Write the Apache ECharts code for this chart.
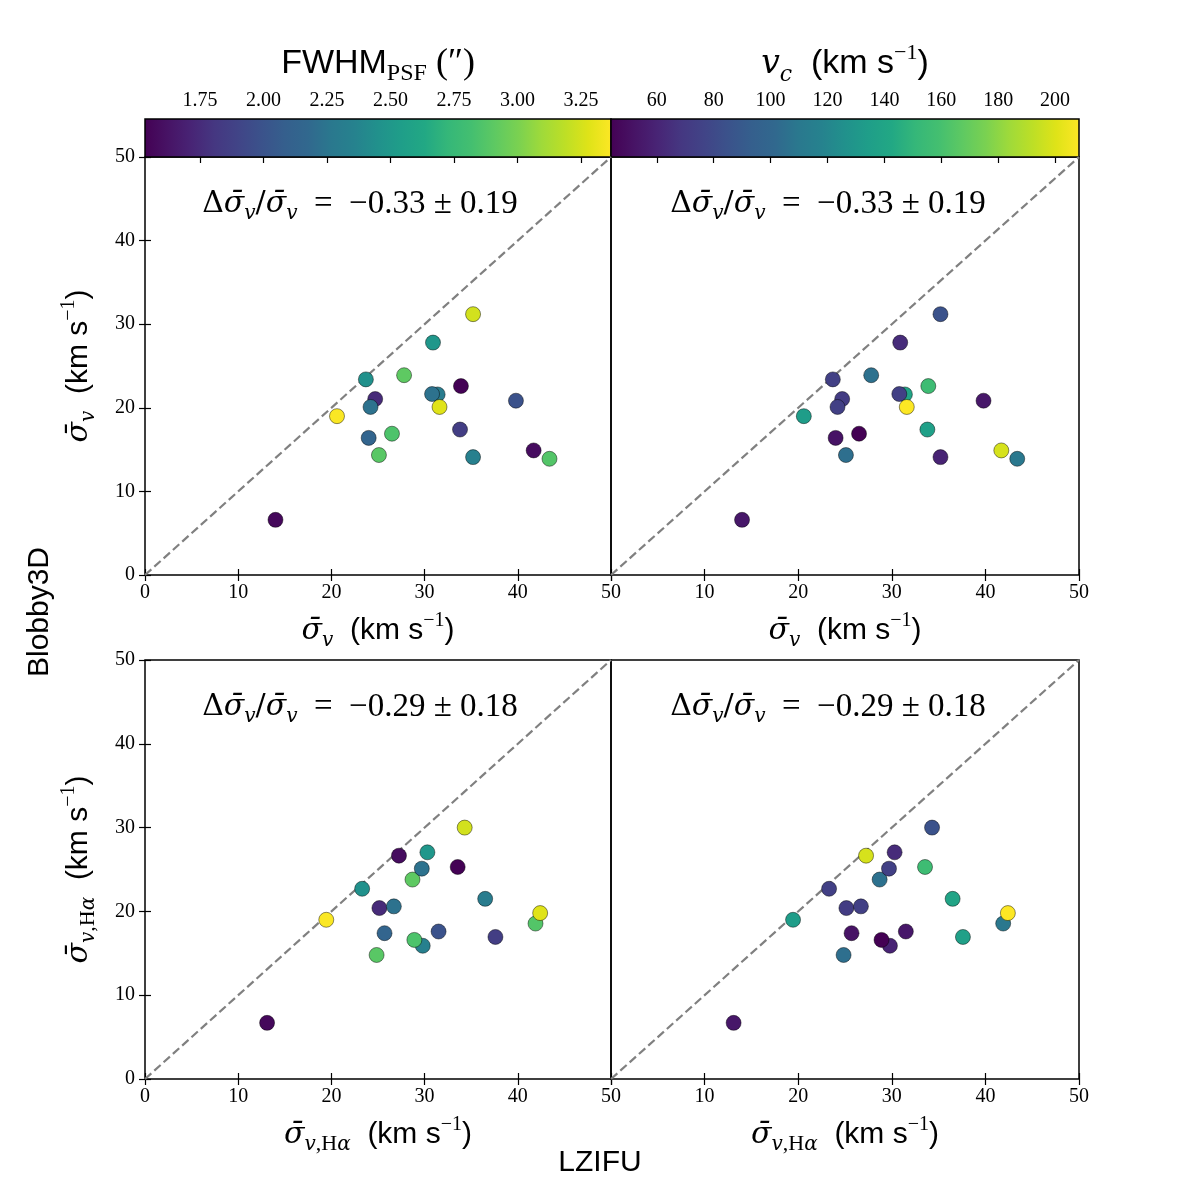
<!DOCTYPE html>
<html><head><meta charset="utf-8">
<script src="https://cdn.jsdelivr.net/npm/echarts@6/dist/echarts.min.js"></script>
<style>html,body{margin:0;padding:0;background:#fff}#c{width:1200px;height:1200px}</style>
</head><body><div id="c"></div>
<script>
// ---- data (one entry per galaxy, same order in every array) ----
const lzifuSigma      = [35.2, 30.9, 23.7, 27.8, 33.9, 31.4, 30.8, 24.7, 24.2, 20.6, 43.4, 31.6, 39.8, 24.0, 35.2, 26.5, 33.8, 25.1, 41.7, 14.0];
const blobbySigma     = [31.2, 27.8, 23.4, 23.9, 22.6, 21.6, 21.65, 21.05, 20.1, 19.0, 13.9, 20.1, 20.85, 16.4, 14.1, 16.9, 17.4, 14.35, 14.9, 6.6];
const lzifuSigmaHa    = [34.3, 30.3, 23.3, 28.7, 33.55, 36.5, 29.7, 25.15, 26.7, 19.45, 41.9, 42.4, 31.5, 25.7, 29.8, 28.9, 37.6, 24.85, 27.25, 13.1];
const blobbySigmaHa   = [30.0, 27.05, 22.7, 23.8, 25.3, 21.5, 25.1, 20.4, 20.6, 19.0, 18.55, 19.8, 17.6, 17.4, 15.9, 16.6, 16.95, 14.8, 26.65, 6.7];
const fwhmPSF         = [3.24, 2.49, 2.45, 2.91, 1.54, 2.30, 2.23, 1.75, 2.23, 3.36, 2.87, 3.28, 1.99, 2.14, 2.34, 2.85, 1.86, 2.89, 1.59, 1.57];
const vCirc           = [85, 64, 74, 106, 156, 139, 74, 72, 74, 134, 110, 208, 54, 52, 60, 44, 136, 105, 198, 54];
const fwhmRange = [1.533, 3.368];
const vcRange   = [43.9, 208.4];
const axisRange = [0, 50];
const fwhmTicks = [1.75, 2.00, 2.25, 2.50, 2.75, 3.00, 3.25];
const vcTicks   = [60, 80, 100, 120, 140, 160, 180, 200];
const statTop    = '−0.33 ± 0.19';
const statBottom = '−0.29 ± 0.18';

const viridis = ['#440154','#471365','#482475','#453781','#414487','#3b528b','#355f8d','#31688e','#2a788e','#26828e',
  '#21918c','#1f9e89','#22a884','#35b779','#44bf70','#5ec962','#7ad151','#9fda3a','#bddf26','#dfe318','#fde725'];

const serif = "'Liberation Serif','DejaVu Serif',serif";
const math = "'DejaVu Serif',serif";
const sans = "'Liberation Sans','DejaVu Sans',sans-serif";

const rich = {
  s:   {fontFamily: math, fontStyle: 'italic', fontSize: 30, lineHeight: 40, color: '#000'},
  d:   {fontFamily: math, fontSize: 30, lineHeight: 40, color: '#000'},
  sub: {fontFamily: math, fontStyle: 'italic', fontSize: 20, lineHeight: 20, verticalAlign: 'bottom', color: '#000'},
  subr:{fontFamily: serif, fontSize: 22, lineHeight: 20, verticalAlign: 'bottom', color: '#000'},
  t:   {fontFamily: sans, fontSize: 30, lineHeight: 40, color: '#000'},
  n:   {fontFamily: serif, fontSize: 33, lineHeight: 40, color: '#000'},
  sup: {fontFamily: serif, fontSize: 20, lineHeight: 18, verticalAlign: 'top', color: '#000'}
};
const titleRich = {
  tt:  {fontFamily: sans, fontSize: 34, lineHeight: 44, color: '#000'},
  s:   {fontFamily: math, fontStyle: 'italic', fontSize: 33, lineHeight: 44, color: '#000'},
  sub: {fontFamily: math, fontStyle: 'italic', fontSize: 22, lineHeight: 22, verticalAlign: 'bottom', color: '#000'},
  subr:{fontFamily: serif, fontSize: 24, lineHeight: 22, verticalAlign: 'bottom', color: '#000'},
  n:   {fontFamily: serif, fontSize: 36, lineHeight: 44, color: '#000'},
  sup: {fontFamily: serif, fontSize: 22, lineHeight: 20, verticalAlign: 'top', color: '#000'}
};
const nameSigma = '{s|σ̄}{sub|v}{t|  (km s}{sup|−1}{t|)}';
const nameSigmaHa = '{s|σ̄}{sub|v}{subr|,H}{sub|α}{t|  (km s}{sup|−1}{t|)}';

const panels = [
  {left: 145, top: 157, width: 466, height: 418},
  {left: 611, top: 157, width: 468, height: 418},
  {left: 145, top: 660, width: 466, height: 419},
  {left: 611, top: 660, width: 468, height: 419}
];
const grids = panels.map(p => Object.assign({show: true, borderColor: '#000', borderWidth: 1.5, backgroundColor: 'transparent'}, p));
grids.push({left: 145, top: 119, width: 466, height: 38});
grids.push({left: 611, top: 119, width: 468, height: 38});

const tickStyle = {show: true, inside: true, length: 6, lineStyle: {color: '#000', width: 1.2}};
const xAxis = [], yAxis = [];
panels.forEach((p, i) => {
  const isLeft = (i % 2 === 0);
  const isTop = i < 2;
  xAxis.push({type: 'value', gridIndex: i, position: 'bottom', min: axisRange[0], max: axisRange[1], interval: 10,
    axisLine: {show: false}, splitLine: {show: false}, axisTick: tickStyle,
    axisLabel: {color: '#000', fontFamily: serif, fontSize: 20, margin: 8, showMinLabel: isLeft},
    name: isTop ? nameSigma : nameSigmaHa, nameLocation: 'middle', nameGap: 36,
    nameTextStyle: {rich: rich}});
  xAxis.push({type: 'value', gridIndex: i, position: 'top', min: axisRange[0], max: axisRange[1], interval: 10,
    axisLine: {show: false}, splitLine: {show: false}, axisTick: tickStyle, axisLabel: {show: false}});
  yAxis.push({type: 'value', gridIndex: i, position: 'left', min: axisRange[0], max: axisRange[1], interval: 10,
    axisLine: {show: false}, splitLine: {show: false}, axisTick: isLeft ? tickStyle : {show: false},
    axisLabel: {show: isLeft, color: '#000', fontFamily: serif, fontSize: 20, margin: 10},
    name: isLeft ? (isTop ? nameSigma : nameSigmaHa) : '', nameLocation: 'middle', nameGap: 46, nameRotate: 90,
    nameTextStyle: {rich: rich}});
  yAxis.push({type: 'value', gridIndex: i, position: 'right', min: axisRange[0], max: axisRange[1], interval: 10,
    axisLine: {show: false}, splitLine: {show: false}, axisTick: isLeft ? tickStyle : {show: false}, axisLabel: {show: false}});
});
// colorbar axes
[[fwhmRange, fwhmTicks, v => v.toFixed(2)], [vcRange, vcTicks, v => String(v)]].forEach((cb, k) => {
  xAxis.push({type: 'value', gridIndex: 4 + k, position: 'top', min: cb[0][0], max: cb[0][1], z: 10,
    axisLine: {show: false}, splitLine: {show: false},
    axisTick: {show: true, inside: true, length: 6, customValues: cb[1], lineStyle: {color: '#000', width: 1.2}},
    axisLabel: {color: '#000', fontFamily: serif, fontSize: 20, margin: 8, customValues: cb[1], formatter: cb[2]}});
  yAxis.push({type: 'value', gridIndex: 4 + k, show: false, min: 0, max: 1});
});

const diag = [[axisRange[0], axisRange[0]], [axisRange[1], axisRange[1]]];
const series = [];
panels.forEach((p, i) => {
  series.push({type: 'line', xAxisIndex: 2 * i, yAxisIndex: 2 * i, data: diag, symbol: 'none', silent: true, z: 1,
    lineStyle: {color: '#808080', width: 2.2, type: [8.5, 4]}});
});
const mk = (xs, ys, cs) => xs.map((x, j) => [x, ys[j], cs[j]]);
const ptStyle = {borderColor: 'rgba(0,0,0,0.75)', borderWidth: 0.6, opacity: 1};
series.push({type: 'scatter', xAxisIndex: 0, yAxisIndex: 0, symbolSize: 15, z: 3, itemStyle: ptStyle, data: mk(lzifuSigma, blobbySigma, fwhmPSF)});
series.push({type: 'scatter', xAxisIndex: 2, yAxisIndex: 2, symbolSize: 15, z: 3, itemStyle: ptStyle, data: mk(lzifuSigma, blobbySigma, vCirc)});
series.push({type: 'scatter', xAxisIndex: 4, yAxisIndex: 4, symbolSize: 15, z: 3, itemStyle: ptStyle, data: mk(lzifuSigmaHa, blobbySigmaHa, fwhmPSF)});
series.push({type: 'scatter', xAxisIndex: 6, yAxisIndex: 6, symbolSize: 15, z: 3, itemStyle: ptStyle, data: mk(lzifuSigmaHa, blobbySigmaHa, vCirc)});

const stops = viridis.map((c, k) => ({offset: k / (viridis.length - 1), color: c}));
const ctr = {align: 'center', verticalAlign: 'middle', textAlign: 'center', textVerticalAlign: 'middle'};
function annot(x, y, stat) {
  return {type: 'text', x: x, y: y, z: 20,
    style: Object.assign({text: '{d|Δ}{s|σ̄}{sub|v}{d|/}{s|σ̄}{sub|v}{n|\u2002=\u2002' + stat + '}', rich: rich}, ctr)};
}
const graphic = [
  {type: 'rect', shape: {x: 145, y: 119, width: 466, height: 38}, z: 1,
    style: {fill: new echarts.graphic.LinearGradient(0, 0, 1, 0, stops), stroke: '#000', lineWidth: 1.5}},
  {type: 'rect', shape: {x: 611, y: 119, width: 468, height: 38}, z: 1,
    style: {fill: new echarts.graphic.LinearGradient(0, 0, 1, 0, stops), stroke: '#000', lineWidth: 1.5}},
  {type: 'text', x: 378, y: 64, z: 20, style: Object.assign({text: '{tt|FWHM}{subr|PSF}{n| (″)}', rich: titleRich}, ctr)},
  {type: 'text', x: 845, y: 64, z: 20, style: Object.assign({text: '{s|v}{sub|c}{tt|  (km s}{sup|−1}{tt|)}', rich: titleRich}, ctr)},
  annot(360, 204, statTop), annot(828, 204, statTop),
  annot(360, 707, statBottom), annot(828, 707, statBottom),
  {type: 'text', x: 40, y: 612, rotation: Math.PI / 2, z: 20,
    style: Object.assign({text: 'Blobby3D', fontFamily: sans, fontSize: 30, fill: '#000'}, ctr)},
  {type: 'text', x: 600, y: 1163, z: 20,
    style: Object.assign({text: 'LZIFU', fontFamily: sans, fontSize: 30, fill: '#000'}, ctr)}
];

const chart = echarts.init(document.getElementById('c'), null, {renderer: 'canvas'});
chart.setOption({
  backgroundColor: '#fff',
  animation: false,
  grid: grids, xAxis: xAxis, yAxis: yAxis, series: series, graphic: graphic,
  visualMap: [
    {type: 'continuous', show: false, dimension: 2, seriesIndex: [4, 6], min: fwhmRange[0], max: fwhmRange[1], inRange: {color: viridis}},
    {type: 'continuous', show: false, dimension: 2, seriesIndex: [5, 7], min: vcRange[0], max: vcRange[1], inRange: {color: viridis}}
  ]
});
</script></body></html>
